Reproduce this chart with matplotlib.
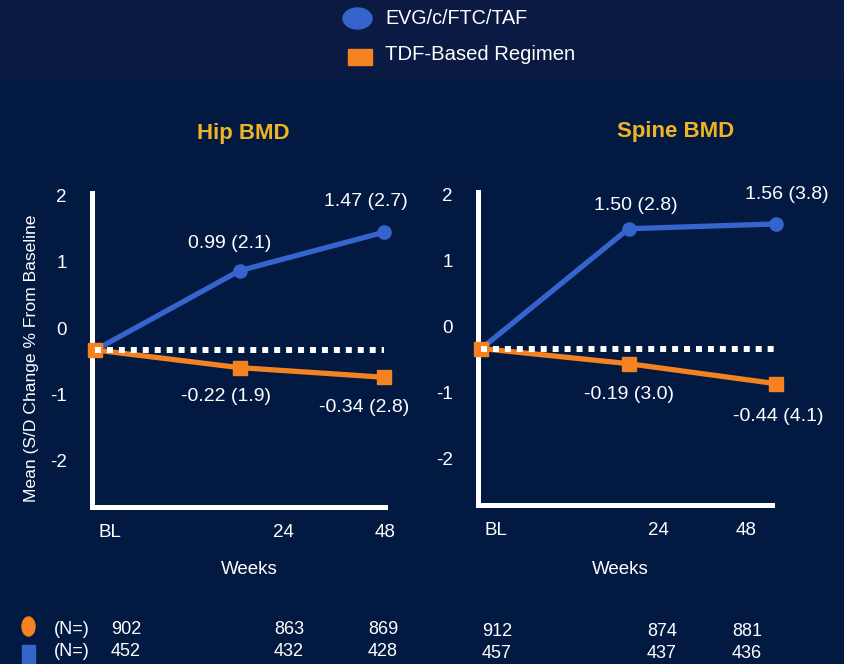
import matplotlib.pyplot as plt
from matplotlib.patches import Ellipse, Rectangle

# ---- data ----
weeks = [0, 24, 48]

hip_taf = [0, 0.99, 1.47]
hip_taf_sd = [None, 2.1, 2.7]
hip_tdf = [0, -0.22, -0.34]
hip_tdf_sd = [None, 1.9, 2.8]

spine_taf = [0, 1.50, 1.56]
spine_taf_sd = [None, 2.8, 3.8]
spine_tdf = [0, -0.19, -0.44]
spine_tdf_sd = [None, 3.0, 4.1]

y_ticks = [-2, -1, 0, 1, 2]
x_labels = ['BL', '24', '48']

hip_n_row1 = [902, 863, 869]
hip_n_row2 = [452, 432, 428]
spine_n_row1 = [912, 874, 881]
spine_n_row2 = [457, 437, 436]

# ---- style ----
BG = '#021a42'
TOP = '#0b1a43'
BLUE = '#3565cc'
ORANGE = '#f58220'
GOLD = '#f0b323'
plt.rcParams['font.family'] = ['Liberation Sans', 'DejaVu Sans']

W, H = 845, 664
fig = plt.figure(figsize=(W / 100, H / 100), dpi=100, facecolor=BG)


def fx(px):
    return px / W


def fy(py):
    return 1 - py / H


# top legend band
fig.add_artist(Rectangle((0, fy(78)), 1, 78 / H, transform=fig.transFigure,
                         color=TOP, zorder=0))
fig.add_artist(Ellipse((fx(357.5), fy(18.5)), 29 / W, 21 / H,
                       transform=fig.transFigure, color=BLUE))
fig.add_artist(Rectangle((fx(348), fy(65)), 24 / W, 16 / H,
                         transform=fig.transFigure, color=ORANGE))
fig.text(fx(385), fy(18), 'EVG/c/FTC/TAF', color='white', fontsize=14.2, va='center')
fig.text(fx(385), fy(55), 'TDF-Based Regimen', color='white', fontsize=14.6, va='center')


def panel(box, title, title_xy, weeks_x, xtick_pos, taf, taf_sd, tdf, tdf_sd,
          taf_off, tdf_off):
    l, t, r, b = box
    ax = fig.add_axes([fx(l), fy(b), fx(r) - fx(l), (b - t) / H])
    ax.set_facecolor('none')
    for s in ['top', 'right']:
        ax.spines[s].set_visible(False)
    for s in ['left', 'bottom']:
        ax.spines[s].set_color('white')
        ax.spines[s].set_linewidth(3.6)
        ax.spines[s].set_capstyle('projecting')
    # label scale
    ax.set_ylim(-2.70, 2.04)
    ax.set_yticks(y_ticks, [str(v) for v in y_ticks])
    ax.set_xlim(-0.55, 47.4)
    ax.set_xticks(xtick_pos, x_labels)
    ax.tick_params(length=0, colors='white', labelsize=13.5)
    ax.tick_params(axis='y', pad=18)
    ax.tick_params(axis='x', pad=12)

    # data scale
    dx = ax.twinx()
    dx.set_ylim(-1.96, 1.96)
    dx.set_axis_off()
    dx.plot(weeks, taf, color=BLUE, lw=3.8, marker='o', ms=9.5,
            clip_on=False, zorder=3)
    dx.plot(weeks, tdf, color=ORANGE, lw=3.8, marker='s', ms=10,
            clip_on=False, zorder=4)
    dx.plot([weeks[0], weeks[-1]], [0, 0], color='white', lw=4.3,
            dashes=(1, 1), dash_capstyle='butt', zorder=5, clip_on=False)

    for i in range(1, len(weeks)):
        dx.annotate(f'{taf[i]:.2f} ({taf_sd[i]:.1f})', (weeks[i], taf[i]),
                    xytext=taf_off[i - 1], textcoords='offset points',
                    ha='center', va='center', color='white', fontsize=14,
                    annotation_clip=False)
        dx.annotate(f'{tdf[i]:.2f} ({tdf_sd[i]:.1f})', (weeks[i], tdf[i]),
                    xytext=tdf_off[i - 1], textcoords='offset points',
                    ha='center', va='center', color='white', fontsize=14,
                    annotation_clip=False)

    fig.text(fx(title_xy[0]), fy(title_xy[1]), title, color=GOLD,
             fontsize=16, fontweight='bold', ha='center', va='center')
    fig.text(fx(weeks_x[0]), fy(weeks_x[1]), 'Weeks', color='white',
             fontsize=13.5, ha='center', va='center')
    return ax


panel((92, 193, 385, 507), 'Hip BMD', (243, 133), (249, 570),
      [2.45, 31.3, 48.2], hip_taf, hip_taf_sd, hip_tdf, hip_tdf_sd,
      [(-7, 19.5), (-13, 22)], [(-10, -21), (-14, -22)])
panel((478, 192, 772, 505), 'Spine BMD', (676, 132), (620, 569),
      [2.3, 28.8, 43.1], spine_taf, spine_taf_sd, spine_tdf, spine_tdf_sd,
      [(5, 16.5), (8, 21.5)], [(0, -22), (1.5, -24)])

fig.text(fx(32), fy(358), 'Mean (S/D Change % From Baseline', rotation=90,
         color='white', fontsize=12.6, ha='center', va='center')

# N table
fig.add_artist(Ellipse((fx(28.5), fy(626.5)), 13 / W, 19 / H,
                       transform=fig.transFigure, color=ORANGE))
fig.add_artist(Rectangle((fx(22), 0), 13 / W, 19 / H,
                         transform=fig.transFigure, color=BLUE))
fig.text(fx(54), fy(630), '(N=)', color='white', fontsize=13, va='center')
fig.text(fx(54), fy(652), '(N=)', color='white', fontsize=13, va='center')
for xs, row1, row2, dy in [([126, 289, 383], hip_n_row1, hip_n_row2, 0),
                           ([497, 662, 747], spine_n_row1, spine_n_row2, 2)]:
    for x, a, c in zip(xs, row1, row2):
        fig.text(fx(x), fy(630 + dy), str(a), color='white', fontsize=13,
                 ha='center', va='center')
        fig.text(fx(x), fy(652 + dy), str(c), color='white', fontsize=13,
                 ha='center', va='center')

fig.savefig('out.png', dpi=100, facecolor=BG)
